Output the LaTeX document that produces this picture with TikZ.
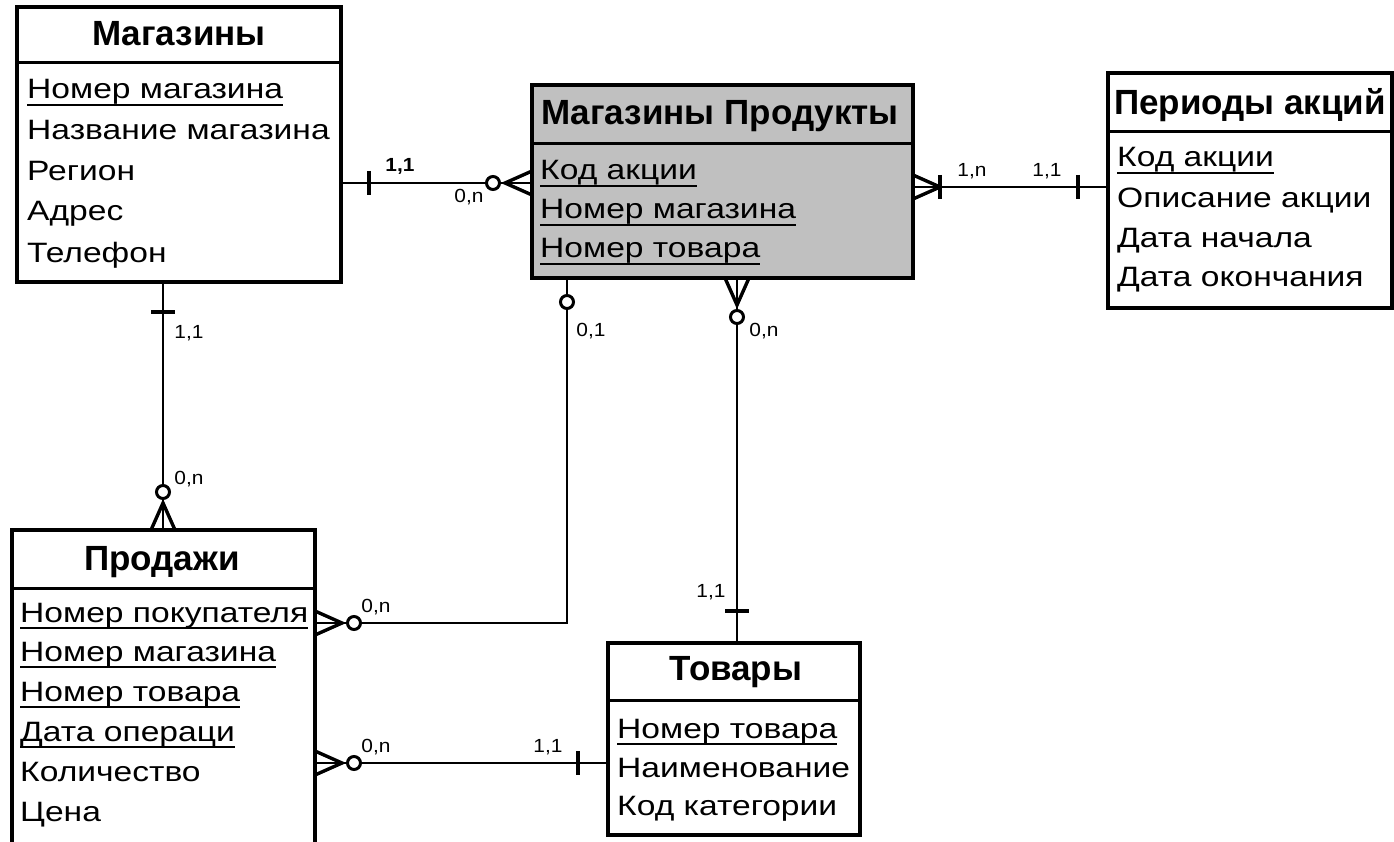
\documentclass[tikz,border=0pt]{standalone}
\usepackage{fontspec}
\setmainfont{Liberation Sans}
\newfontfamily\attrfont[FakeStretch=1.2]{Liberation Sans}
\newfontfamily\ttlfont{Liberation Sans}
\newfontfamily\lblfont[FakeStretch=1.1]{Liberation Sans}
\newcommand\uln[1]{\setbox0\hbox{#1}\rlap{\rule[-7pt]{\wd0}{2pt}}\box0}
\definecolor{mpgray}{RGB}{192,192,192}
\begin{document}
\begin{tikzpicture}[x=1pt,y=-1pt,
  box/.style={draw=black, line width=3.5pt, inner sep=0pt, outer sep=0pt, anchor=north west},
  ttl/.style={font=\ttlfont\bfseries\fontsize{35}{40}\selectfont, inner sep=0pt, anchor=base},
  att/.style={font=\attrfont\fontsize{28}{32}\selectfont, inner sep=0pt, anchor=base west},
  lbl/.style={font=\lblfont\fontsize{19}{22}\selectfont, inner sep=0pt},
  conn/.style={line width=2.8pt},
  barln/.style={line width=4pt},
  circ/.style={line width=3pt, fill=white},
  sepln/.style={line width=3pt},
  crow/.pic={\draw[line width=3.4pt] (27,-12) -- (0,0) -- (27,12);}
]
\useasboundingbox (0,0) rectangle (1394,842);
\fill[white] (0,0) rectangle (1394,842);
\clip (0,0) rectangle (1394,842);

% ---------- entities ----------
% Магазины
\node[box, minimum width=324pt, minimum height=275pt] (mag) at (17,7) {};
\draw[sepln] (mag.west |- 0,63) -- (mag.east |- 0,63);
\node[ttl] (magt) at (179,46) {Магазины};
\node[att] (mag1) at (27,99)  {\uln{Номер магазина}};
\node[att] (mag2) at (27,140) {Название магазина};
\node[att] (mag3) at (27,181) {Регион};
\node[att] (mag4) at (27,221) {Адрес};
\node[att] (mag5) at (27,262) {Телефон};

% Магазины Продукты
\node[box, fill=mpgray, minimum width=381pt, minimum height=193pt] (mp) at (532,85) {};
\draw[sepln] (mp.west |- 0,144) -- (mp.east |- 0,144);
\node[ttl] (mpt) at (720,125) {Магазины Продукты};
\node[att] (mp1) at (540,180) {\uln{Код акции}};
\node[att] (mp2) at (540,219) {\uln{Номер магазина}};
\node[att] (mp3) at (540,258) {\uln{Номер товара}};

% Периоды акций
\node[box, minimum width=284pt, minimum height=235pt] (per) at (1108,73) {};
\draw[sepln] (per.west |- 0,132) -- (per.east |- 0,132);
\node[ttl, anchor=base west] (pert) at (1114,115) {Периоды акций};
\node[att] (per1) at (1117,167) {\uln{Код акции}};
\node[att] (per2) at (1117,208) {Описание акции};
\node[att] (per3) at (1117,248) {Дата начала};
\node[att] (per4) at (1117,287) {Дата окончания};

% Продажи
\node[box, minimum width=303pt, minimum height=330pt] (sal) at (12,530) {};
\draw[sepln] (sal.west |- 0,588) -- (sal.east |- 0,588);
\node[ttl] (salt) at (162,570) {Продажи};
\node[att] (sal1) at (20,622) {\uln{Номер покупателя}};
\node[att] (sal2) at (20,661) {\uln{Номер магазина}};
\node[att] (sal3) at (20,701) {\uln{Номер товара}};
\node[att] (sal4) at (20,741) {\uln{Дата операци}};
\node[att] (sal5) at (20,781) {Количество};
\node[att] (sal6) at (20,821) {Цена};

% Товары
\node[box, minimum width=252pt, minimum height=192pt] (tov) at (608,643) {};
\draw[sepln] (tov.west |- 0,700) -- (tov.east |- 0,700);
\node[ttl] (tovt) at (736,680) {Товары};
\node[att] (tov1) at (617,738) {\uln{Номер товара}};
\node[att] (tov2) at (617,777) {Наименование};
\node[att] (tov3) at (617,815) {Код категории};

% ---------- connectors ----------
% Магазины -- Магазины Продукты
\draw[conn] (mag.east |- 0,183) -- (mp.west |- 0,183);
\draw[barln] (369,171) -- (369,195);
\pic at (505,183) {crow};
\draw[circ] (493,183) circle[radius=6.5pt];
\node[lbl, font=\lblfont\bfseries\fontsize{19}{22}\selectfont] (l1) at (400,166) {1,1};
\node[lbl] (l2) at (469,197) {0,n};

% Магазины Продукты -- Периоды акций
\draw[conn] (mp.east |- 0,187) -- (per.west |- 0,187);
\pic[rotate=180] at (940,187) {crow};
\draw[barln] (940,175) -- (940,199);
\draw[barln] (1078,175) -- (1078,199);
\node[lbl] (l3) at (972,171) {1,n};
\node[lbl] (l4) at (1047,171) {1,1};

% Магазины -- Продажи
\draw[conn] (mag.south -| 163,0) -- (sal.north -| 163,0);
\draw[barln] (151,312) -- (175,312);
\pic[rotate=-90] at (163,503) {crow};
\draw[circ] (163,492) circle[radius=6.5pt];
\node[lbl] (l5) at (189,333) {1,1};
\node[lbl] (l6) at (189,479) {0,n};

% Магазины Продукты -- Продажи
\draw[conn] (mp.south -| 567,0) |- (sal.east |- 0,623);
\draw[circ] (567,302) circle[radius=6.5pt];
\pic[rotate=180] at (342,623) {crow};
\draw[circ] (354,623) circle[radius=6.5pt];
\node[lbl] (l7) at (591,331) {0,1};
\node[lbl] (l8) at (376,607) {0,n};

% Магазины Продукты -- Товары
\draw[conn] (mp.south -| 737,0) -- (tov.north -| 737,0);
\pic[rotate=90] at (737,305) {crow};
\draw[circ] (737,317) circle[radius=6.5pt];
\draw[barln] (725,611) -- (749,611);
\node[lbl] (l9) at (764,331) {0,n};
\node[lbl] (l10) at (711,592) {1,1};

% Продажи -- Товары
\draw[conn] (sal.east |- 0,763) -- (tov.west |- 0,763);
\pic[rotate=180] at (342,763) {crow};
\draw[circ] (354,763) circle[radius=6.5pt];
\draw[barln] (578,751) -- (578,775);
\node[lbl] (l11) at (376,747) {0,n};
\node[lbl] (l12) at (548,747) {1,1};
\end{tikzpicture}
\end{document}
